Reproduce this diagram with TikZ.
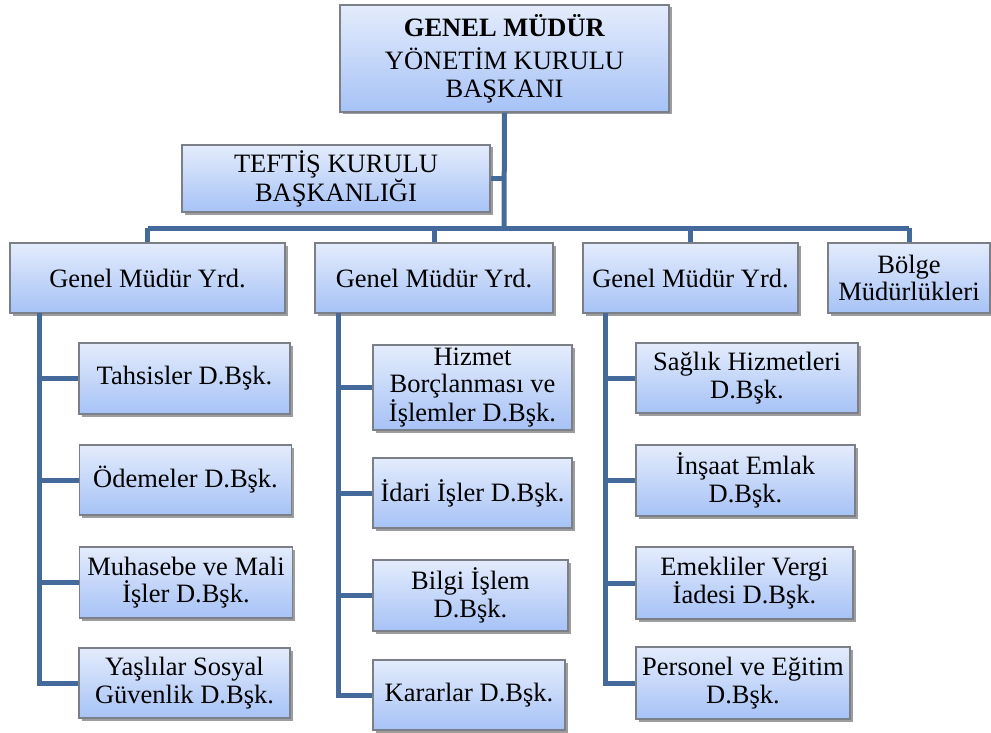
\documentclass[tikz,border=0pt]{standalone}
\usepackage{fontspec}
\setmainfont{Liberation Serif}
\usetikzlibrary{shadows}
\definecolor{conncol}{HTML}{44699B}
\definecolor{boxtop}{HTML}{E4ECFC}
\definecolor{boxbot}{HTML}{A6C2F6}
\definecolor{boxline}{HTML}{7A7F88}
\tikzset{
  orgbox/.style={draw=boxline, line width=1.2pt, top color=boxtop, bottom color=boxbot,
    align=center, inner sep=1pt, font=\fontsize{26.5}{27.5}\selectfont,
    drop shadow={shadow xshift=2.5pt, shadow yshift=-2.5pt, fill=black!70, opacity=0.55}},
  conn/.style={draw=conncol, line width=5pt}
}
\begin{document}
\begin{tikzpicture}[x=1pt,y=-1pt]
\useasboundingbox (0,0) rectangle (991,733);
% level 0/1
\node[orgbox, minimum width=329, minimum height=107] (top) at (504.5,58.5)
  {\textbf{GENEL MÜDÜR}\\[6pt]YÖNETİM KURULU\\BAŞKANI};
\node[orgbox, minimum width=308, minimum height=67] (tef) at (336,178.5)
  {TEFTİŞ KURULU\\BAŞKANLIĞI};
% level 2
\node[orgbox, minimum width=275, minimum height=70] (g1) at (147.5,278) {Genel Müdür Yrd.};
\node[orgbox, minimum width=238, minimum height=70] (g2) at (434,278) {Genel Müdür Yrd.};
\node[orgbox, minimum width=215, minimum height=70] (g3) at (690.5,278) {Genel Müdür Yrd.};
\node[orgbox, minimum width=162, minimum height=70] (bm) at (909,278) {Bölge\\Müdürlükleri};
% column 1
\node[orgbox, minimum width=211, minimum height=71] (a1) at (184.5,378.5) {Tahsisler D.Bşk.};
\node[orgbox, minimum width=212, minimum height=70] (a2) at (185.5,480) {Ödemeler D.Bşk.};
\node[orgbox, minimum width=213, minimum height=71] (a3) at (186,582.5) {Muhasebe ve Mali\\İşler D.Bşk.};
\node[orgbox, minimum width=211, minimum height=70] (a4) at (184.5,683) {Yaşlılar Sosyal\\Güvenlik D.Bşk.};
% column 2
\node[orgbox, minimum width=199, minimum height=85] (b1) at (472.5,387.5) {Hizmet\\Borçlanması ve\\İşlemler D.Bşk.};
\node[orgbox, minimum width=199, minimum height=70] (b2) at (472.5,493) {İdari İşler D.Bşk.};
\node[orgbox, minimum width=195, minimum height=71] (b3) at (470.5,595.5) {Bilgi İşlem\\D.Bşk.};
\node[orgbox, minimum width=192, minimum height=70] (b4) at (469,695) {Kararlar D.Bşk.};
% column 3
\node[orgbox, minimum width=222, minimum height=70] (c1) at (747,378) {Sağlık Hizmetleri\\D.Bşk.};
\node[orgbox, minimum width=219, minimum height=71] (c2) at (745.5,480.5) {İnşaat Emlak\\D.Bşk.};
\node[orgbox, minimum width=217, minimum height=72] (c3) at (744.5,583) {Emekliler Vergi\\İadesi D.Bşk.};
\node[orgbox, minimum width=214, minimum height=72] (c4) at (743,683) {Personel ve Eğitim\\D.Bşk.};
% connectors
\coordinate (bar) at (504,228);
\coordinate (barL) at (147.5,228);
\coordinate (barR) at (909,228);
\draw[conn] (top.south) -- (bar);
\draw[conn] (tef.east) -- (tef.east -| bar);
\draw[conn] (barL) -- (barR);
\draw[conn] (barL) -- (g1.north);
\draw[conn] (g2.north |- bar) -- (g2.north);
\draw[conn] (g3.north |- bar) -- (g3.north);
\draw[conn] (barR) -- (bm.north);
% column lines
\coordinate (k1) at (39,313);
\coordinate (k2) at (338,313);
\coordinate (k3) at (605,313);
\draw[conn] (k1) |- (a4.west);
\draw[conn] (k1 |- a1.west) -- (a1.west);
\draw[conn] (k1 |- a2.west) -- (a2.west);
\draw[conn] (k1 |- a3.west) -- (a3.west);
\draw[conn] (k2) |- (b4.west);
\draw[conn] (k2 |- b1.west) -- (b1.west);
\draw[conn] (k2 |- b2.west) -- (b2.west);
\draw[conn] (k2 |- b3.west) -- (b3.west);
\draw[conn] (k3) |- (c4.west);
\draw[conn] (k3 |- c1.west) -- (c1.west);
\draw[conn] (k3 |- c2.west) -- (c2.west);
\draw[conn] (k3 |- c3.west) -- (c3.west);
\end{tikzpicture}
\end{document}
